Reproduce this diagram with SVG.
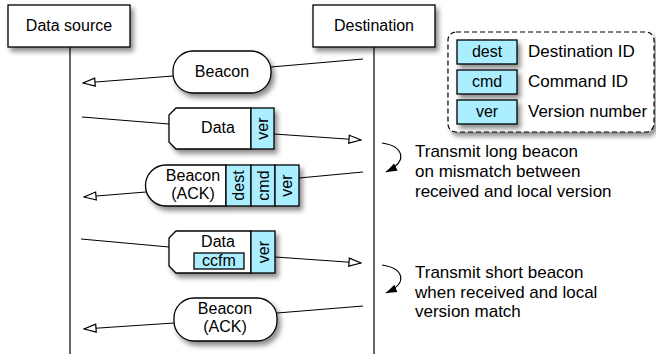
<svg xmlns="http://www.w3.org/2000/svg" width="656" height="356" viewBox="0 0 656 356">
<defs>
<filter id="sh" x="-20%" y="-20%" width="150%" height="160%">
<feDropShadow dx="3" dy="4" stdDeviation="2.5" flood-color="#000" flood-opacity="0.45"/>
</filter>
<marker id="open" markerUnits="userSpaceOnUse" viewBox="0 0 14 10" refX="13" refY="5" markerWidth="14" markerHeight="10" orient="auto">
<path d="M1,1 L13,5 L1,9 Z" fill="#fff" stroke="#000" stroke-width="1.2"/>
</marker>
<marker id="fill" markerUnits="userSpaceOnUse" viewBox="0 0 12 10" refX="11" refY="5" markerWidth="12" markerHeight="10" orient="auto">
<path d="M0,1 L11,5 L0,9 Z" fill="#000"/>
</marker>
</defs>
<style>
text{font-family:"Liberation Sans",Arial,Helvetica,sans-serif;fill:#000}
.t16{font-size:16px;text-anchor:middle}
.t17{font-size:17px}
.box{fill:#fff;stroke:#000;stroke-width:1.3}
.blue{fill:#aaeeff;stroke:#000;stroke-width:1.3}
.ln{fill:none;stroke:#000;stroke-width:1.2}
</style>
<rect width="656" height="356" fill="#fff"/>

<g id="lifelines">
<line class="ln" x1="70" y1="47" x2="70" y2="354"/>
<line class="ln" x1="374" y1="47" x2="374" y2="354"/>
</g>

<g id="data-source">
<rect class="box" x="8" y="5" width="122" height="42" filter="url(#sh)"/>
<text class="t16" x="69" y="31">Data source</text>
</g>
<g id="destination">
<rect class="box" x="313" y="5" width="122" height="42" filter="url(#sh)"/>
<text class="t16" x="374" y="31">Destination</text>
</g>

<g id="connectors">
<line class="ln" x1="363" y1="59" x2="271" y2="67"/>
<line class="ln" x1="173" y1="76" x2="83" y2="83" marker-end="url(#open)"/>
<line class="ln" x1="82" y1="117" x2="169" y2="124"/>
<line class="ln" x1="274" y1="134" x2="361" y2="140" marker-end="url(#open)"/>
<line class="ln" x1="363" y1="172" x2="299" y2="178"/>
<line class="ln" x1="146" y1="192" x2="84" y2="197" marker-end="url(#open)"/>
<line class="ln" x1="81" y1="239" x2="169" y2="247"/>
<line class="ln" x1="275" y1="257" x2="361" y2="263" marker-end="url(#open)"/>
<line class="ln" x1="363" y1="306" x2="277" y2="313"/>
<line class="ln" x1="174" y1="323" x2="84" y2="329" marker-end="url(#open)"/>
<path class="ln" d="M382,143 C402,146 410,160 386,172" marker-end="url(#fill)"/>
<path class="ln" d="M382,265 C402,268 410,282 386,293" marker-end="url(#fill)"/>
</g>

<g id="beacon1">
<rect class="box" x="173" y="51" width="98" height="42" rx="20" ry="20" filter="url(#sh)"/>
<text class="t16" x="222" y="77">Beacon</text>
</g>

<g id="data1">
<g filter="url(#sh)">
<path class="box" d="M176,108 H251 V149 H176 L169,142 V115 Z"/>
<rect class="blue" x="251" y="108" width="23" height="41"/>
</g>
<text class="t16" x="218" y="133">Data</text>
<text class="t16" x="268" y="128.5" transform="rotate(-90 268 128.5)">ver</text>
</g>

<g id="beacon-ack1">
<g filter="url(#sh)">
<path class="box" d="M166,165 H226 V206 H166 A20.5,20.5 0 0 1 166,165 Z"/>
<rect class="blue" x="226" y="165" width="25" height="41"/>
<rect class="blue" x="251" y="165" width="24" height="41"/>
<rect class="blue" x="275" y="165" width="24" height="41"/>
</g>
<text class="t16" x="193" y="181">Beacon</text>
<text class="t16" x="193" y="199">(ACK)</text>
<text class="t16" x="244" y="185.5" transform="rotate(-90 244 185.5)">dest</text>
<text class="t16" x="268.5" y="185.5" transform="rotate(-90 268.5 185.5)">cmd</text>
<text class="t16" x="292" y="185.5" transform="rotate(-90 292 185.5)">ver</text>
</g>

<g id="data2">
<g filter="url(#sh)">
<path class="box" d="M176,231 H251 V273 H176 L169,266 V238 Z"/>
<rect class="blue" x="251" y="231" width="24" height="42"/>
</g>
<text class="t16" x="218" y="247">Data</text>
<rect class="blue" x="194" y="253" width="50" height="16"/>
<text class="t16" x="219" y="266">ccfm</text>
<text class="t16" x="268.5" y="252" transform="rotate(-90 268.5 252)">ver</text>
</g>

<g id="beacon-ack2">
<rect class="box" x="174" y="298" width="103" height="43" rx="20" ry="20" filter="url(#sh)"/>
<text class="t16" x="225" y="314">Beacon</text>
<text class="t16" x="225" y="332">(ACK)</text>
</g>

<g id="legend">
<rect x="448" y="32" width="206" height="100" rx="8" ry="8" fill="#fff" stroke="#000" stroke-width="1.2" stroke-dasharray="5,3" filter="url(#sh)"/>
<g filter="url(#sh)">
<rect class="blue" x="457" y="40" width="60" height="24"/>
<rect class="blue" x="457" y="70" width="60" height="24"/>
<rect class="blue" x="457" y="100" width="60" height="24"/>
</g>
<text class="t16" x="487" y="57">dest</text>
<text class="t16" x="487" y="87">cmd</text>
<text class="t16" x="487" y="117">ver</text>
<text class="t17" x="528" y="57">Destination ID</text>
<text class="t17" x="528" y="87">Command ID</text>
<text class="t17" x="528" y="117">Version number</text>
</g>

<g id="note1">
<text class="t17" x="415" y="157">Transmit long beacon</text>
<text class="t17" x="415" y="177">on mismatch between</text>
<text class="t17" x="415" y="197">received and local version</text>
</g>
<g id="note2">
<text class="t17" x="415" y="278">Transmit short beacon</text>
<text class="t17" x="415" y="298">when received and local</text>
<text class="t17" x="415" y="317">version match</text>
</g>
</svg>
